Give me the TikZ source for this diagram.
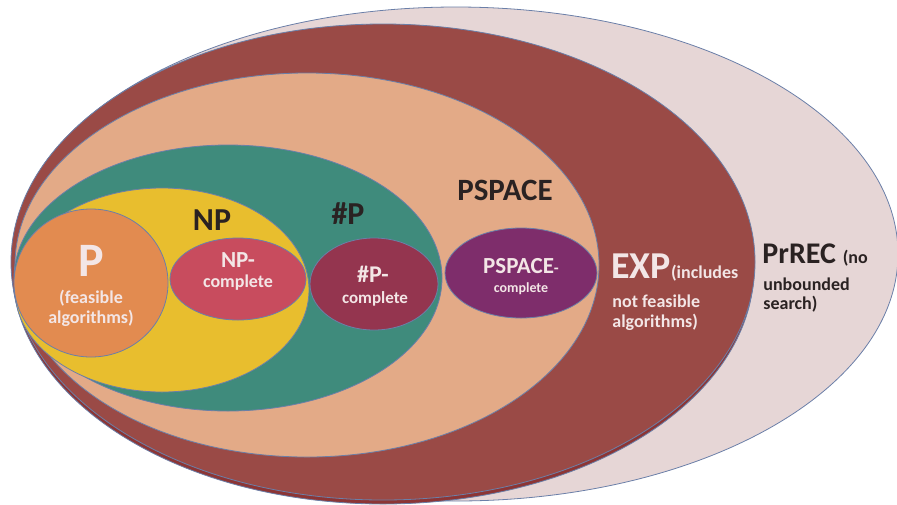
\documentclass[tikz,border=0pt]{standalone}
\usepackage{fontspec}
\setmainfont{Carlito}
\definecolor{prrec}{HTML}{E6D6D6}
\definecolor{expshade}{HTML}{8C3535}
\definecolor{exp}{HTML}{9A4A46}
\definecolor{pspace}{HTML}{E3AA87}
\definecolor{sharpp}{HTML}{3F8B7C}
\definecolor{np}{HTML}{E8BE2E}
\definecolor{pclass}{HTML}{E28B50}
\definecolor{npc}{HTML}{C84C5E}
\definecolor{sharppc}{HTML}{94354F}
\definecolor{pspacec}{HTML}{7E2D6B}
\definecolor{edge}{HTML}{6B7FA8}
\definecolor{txtlight}{HTML}{F3E6E6}
\definecolor{txtdark}{HTML}{2A2222}
\newcommand{\lblfont}[1]{\fontsize{#1}{#1}\selectfont\bfseries}
\begin{document}
\begin{tikzpicture}[x=0.5pt, y=-0.5pt,
        set/.style={draw=edge, line width=0.4pt},
        darklbl/.style={text=txtdark, anchor=base, inner sep=0pt},
        lightlbl/.style={text=txtlight, anchor=base, inner sep=0pt}]
                \useasboundingbox (0,0) rectangle (897,504);
                \foreach \cx/\cy/\rx/\ry/\col in
                    {456/254/442/247/prrec, 383/268/371/236/expshade, 383/262/372/238/exp,
                     307/265/292/192/pspace, 228/278/214/133/sharpp, 162/290/147/102/np,
                     91/283/77/74/pclass, 238/279/68/41/npc, 374/284/64/46/sharppc,
                     521/273/76/45/pspacec}
                    {
                        \filldraw[set, fill=\col] (\cx,\cy) ellipse [x radius=\rx, y radius=\ry];
                    }
                \node[darklbl, font=\lblfont{16}] (nplbl) at (212,230) {NP};
                \node[darklbl, font=\lblfont{16}] (sharpplbl) at (348,224) {\#P};
                \node[darklbl, font=\lblfont{15.5}] (pspacelbl) at (505,200) {PSPACE};
                \node[lightlbl, font=\lblfont{24}] (plbl) at (91,276) {P};
                \node[lightlbl, font=\lblfont{9}] (pnote) at (91,303) {(feasible};
                \node[lightlbl, font=\lblfont{9}] (pnote2) at (91,323) {algorithms)};
                \node[lightlbl, font=\lblfont{11.5}] (npclbl) at (238,267) {NP-};
                \node[lightlbl, font=\lblfont{9}] (npclbl2) at (238,287) {complete};
                \node[lightlbl, font=\lblfont{12}] (sharppclbl) at (373,282) {\#P-};
                \node[lightlbl, font=\lblfont{8.5}] (sharppclbl2) at (375,303) {complete};
                \node[lightlbl, font=\lblfont{11.5}] (pspaceclbl) at (521,273) {PSPACE{\lblfont{8}-}};
                \node[lightlbl, font=\lblfont{7}] (pspaceclbl2) at (521,292) {complete};
                \node[lightlbl, font=\lblfont{19}, anchor=base west] (explbl) at (611,278) {EXP{\lblfont{9}(includes}};
                \node[lightlbl, font=\lblfont{9}, anchor=base west] (expnote) at (612,307) {not feasible};
                \node[lightlbl, font=\lblfont{9}, anchor=base west] (expnote2) at (612,327) {algorithms)};
                \node[darklbl, font=\lblfont{15}, anchor=base west] (prreclbl) at (762,263) {PrREC {\lblfont{9}(no}};
                \node[darklbl, font=\lblfont{9}, anchor=base west] (prrecnote) at (763,290) {unbounded};
                \node[darklbl, font=\lblfont{9}, anchor=base west] (prrecnote2) at (763,309) {search)};
            \end{tikzpicture}
\end{document}
